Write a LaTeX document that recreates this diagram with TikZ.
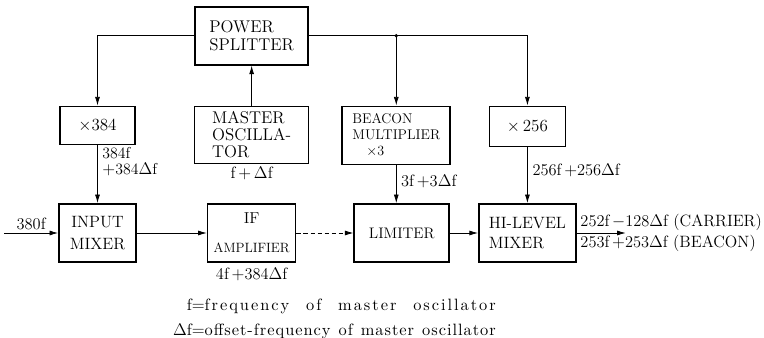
\documentclass[tikz,border=0pt]{standalone}
\usepackage{fontspec}
\usepackage{amsmath}
\usepackage{tikz}
\usetikzlibrary{positioning, arrows.meta}

\newfontfamily\legendfam{lmroman10-regular}[Extension=.otf, LetterSpace=6]
\newfontfamily\legendwidefam{lmroman10-regular}[Extension=.otf, LetterSpace=12]
\newcommand{\legendfont}{\legendfam\fontsize{14}{21}\selectfont}
\newcommand{\legendline}[1]{\makebox[9.12cm][s]{#1}}

\begin{document}
\begin{tikzpicture}[
    node distance=1cm,
    box/.style={draw, line width=1.4pt, inner sep=2pt, minimum height=1.74cm, align=center, font=\fontsize{14.5}{17}\selectfont},
    lbl/.style={inner sep=1pt, font=\fontsize{14}{16}\selectfont},
    wire/.style={line width=0.7pt},
    >={Latex[length=2.6mm,width=1.5mm]}
  ]
    \useasboundingbox (0,0) rectangle (22.92,-10.14);
    % lower chain
    \node[box, minimum width=2.31cm, font=\fontsize{14}{18.5}\selectfont] (inmix) at (2.925,-6.99)
      {INPUT\\MIXER};
    \node[box, minimum width=2.64cm, font=\fontsize{11.5}{25}\selectfont, right=2.1cm of inmix] (ifamp)
      {{\fontsize{13.5}{25}\selectfont IF}\\AMPLIFIER};
    \node[box, minimum width=2.85cm, font=\fontsize{13}{15}\selectfont, right=1.71cm of ifamp] (lim)
      {LIMITER};
    \node[box, minimum width=2.91cm, align=left, font=\fontsize{14}{17}\selectfont, right=0.84cm of lim] (hlm)
      {HI-LEVEL\\MIXER};
    % upper row
    \node[box, minimum width=2.25cm, minimum height=1.14cm, above=1.74cm of inmix] (x384)
      {$\times$384};
    \node[box, minimum width=3.42cm, minimum height=1.71cm, align=left, font=\fontsize{14.5}{14.5}\selectfont, above=1.17cm of ifamp] (mo)
      {MASTER\\OSCILLA-\\TOR};
    \node[box, minimum width=3.39cm, align=left, font=\fontsize{14.5}{16}\selectfont, above=1.2cm of mo] (ps)
      {POWER\\SPLITTER};
    \node[box, minimum width=3.24cm, align=left, font=\fontsize{12}{13.5}\selectfont, above=1.14cm of lim, xshift=-0.165cm] (bm)
      {BEACON\\MULTIPLIER\\\hspace{1em}$\times$3};
    \node[box, minimum width=2.28cm, minimum height=1.2cm, above=1.68cm of hlm] (x256)
      {$\times$\,256};
    % splitter outputs
    \coordinate (split) at (bm.north |- ps.east);
    \draw[wire] (ps.east) -- (split);
    \draw[wire, ->] (split) -- (bm.north);
    \draw[wire, ->] (split) -| (x256.north);
    \draw[wire, ->] (ps.west) -| (x384.north);
    \fill (split) circle (1.6pt);
    \draw[wire, ->] (mo) -- (ps);
    % into the mixers
    \draw[wire, ->] (x384) -- (inmix);
    \draw[wire, ->] (bm.south) -- (bm.south |- lim.north);
    \draw[wire, ->] (x256) -- (hlm)
      node[pos=0.42, right=3pt, lbl] (f256) {256f\,$+$256$\Delta$f};
    \coordinate[left=1.62cm of inmix] (src);
    \coordinate[right=1.47cm of hlm] (sink);
    \draw[wire, ->] (src) -- (inmix)
      node[midway, above=1pt, lbl] (f380) {380f};
    \draw[wire, ->] (inmix) -- (ifamp);
    \draw[wire, ->, dash pattern=on 4pt off 2pt] (ifamp) -- (lim);
    \draw[wire, ->] (lim) -- (hlm);
    \draw[wire, ->] (hlm) -- (sink);
    % frequency labels
    \node[lbl, align=left, anchor=north west, font=\fontsize{13.5}{13}\selectfont] (f384) at ([xshift=3pt,yshift=-1pt]x384.south)
      {384f\\$+$384$\Delta$f};
    \node[lbl, below=1pt of mo] (fmo) {f$\,+\,\Delta$f};
    \node[lbl, anchor=north west] (f3) at ([xshift=3pt,yshift=-7pt]bm.south) {3f\,$+$3$\Delta$f};
    \node[lbl, below=3pt of ifamp] (fif) {4f\,$+$384$\Delta$f};
    \node[lbl, anchor=south west] (carrier) at ([xshift=2pt,yshift=1pt]hlm.east)
      {252f\,$-$128$\Delta$f (CARRIER)};
    \node[lbl, anchor=north west] (beacon) at ([xshift=2pt,yshift=-1pt]hlm.east)
      {253f\,$+$253$\Delta$f (BEACON)};
    % legend
    \node[inner sep=0pt, below left=0.91cm and 1.02cm of ifamp.south west, anchor=north west, font=\legendfont] (legend)
      {\begin{tabular}{@{}r@{}l@{}}
        f & \legendline{\legendwidefam$=$frequency of master oscillator}\\
        $\Delta$f & \legendline{$=$offset-frequency of master oscillator}
      \end{tabular}};
  \end{tikzpicture}
\end{document}
